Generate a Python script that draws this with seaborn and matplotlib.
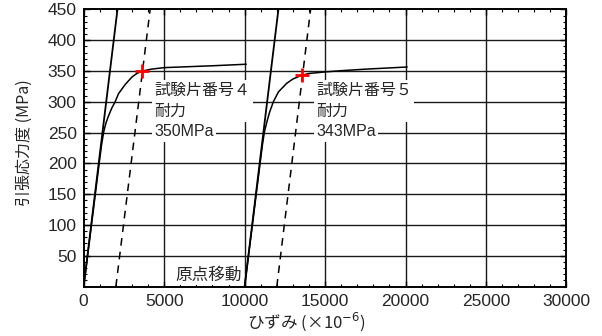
import pandas as pd
import matplotlib
matplotlib.use("Agg")
import matplotlib.pyplot as plt
import seaborn as sns

# Stress-strain readings (strain x10^-6, stress MPa)
strain4 = [0, 500, 960, 1110, 1250, 1390, 1540, 1750, 1955, 2160, 2577, 2990, 3300, 3650, 4200, 5000, 6000, 8000, 10100]
stress4 = [0, 104, 200, 230, 252, 266, 277, 290, 300, 313, 328, 340, 346, 350, 353, 355.5, 356.5, 358.5, 361]
strain5 = [10000, 10500, 10960, 11100, 11230, 11390, 11550, 11785, 12100, 12615, 13000, 13547, 14000, 15000, 16000, 17500, 20100]
stress5 = [0, 104, 200, 229, 251, 268, 283, 300, 316, 330, 337, 343, 346, 348.5, 350.5, 353, 356.5]

# elastic lines and 0.2% offset lines
elastic_x = [[0, 2100], [10000, 12100]]
offset_x = [[2000, 4130], [12000, 14100]]
line_y = [0, 450]

# proof stress points
proof_x = [3650, 13547]
proof_y = [350, 343]
proof_labels = ["試験片番号４\n耐力", "試験片番号５\n耐力"]
proof_values = ["350MPa", "343MPa"]

curves = pd.concat([
    pd.DataFrame({"strain": strain4, "stress": stress4, "piece": "4"}),
    pd.DataFrame({"strain": strain5, "stress": stress5, "piece": "5"}),
])

sns.set_theme(style="ticks")
fam = ["Liberation Sans", "Noto Sans CJK JP", "DejaVu Sans"]
jp = ["Noto Sans CJK JP", "DejaVu Sans"]
plt.rcParams["font.family"] = fam

fig = plt.figure(figsize=(6.02, 3.36), dpi=100)
ax = fig.add_axes([0.139, 0.147, 0.802, 0.825])

# grid
for y in range(50, 450, 50):
    ax.axhline(y, color="#1a1a1a", lw=1.0, zorder=0)
for x in range(5000, 30000, 5000):
    ax.axvline(x, color="#1a1a1a", lw=1.0, zorder=0)

sns.lineplot(data=curves, x="strain", y="stress", units="piece", estimator=None,
             sort=False, color="black", lw=1.1, ax=ax, zorder=3)

for ex in elastic_x:
    ax.plot(ex, line_y, color="black", lw=1.3, zorder=3)
for ox in offset_x:
    ax.plot(ox, line_y, color="black", lw=1.1, ls=(0, (5, 4)), zorder=3)

ax.plot(proof_x, proof_y, ls="none", marker="+", ms=10, mew=2, color="red", zorder=5)

box = dict(facecolor="white", edgecolor="none", pad=1.5)
text_x = [4400, 14450]
for tx, lab, val in zip(text_x, proof_labels, proof_values):
    ax.text(tx, 301, lab, family=jp, fontsize=11.5, va="center", ha="left",
            linespacing=1.3, bbox=box, zorder=4)
    ax.text(tx, 251, val, family=fam, fontsize=11.5, va="center", ha="left",
            bbox=box, zorder=4)
ax.text(9850, 19, "原点移動", family=jp, fontsize=12, va="center", ha="right",
        bbox=box, zorder=4)

ax.set_xlim(0, 30000)
ax.set_ylim(0, 450)
ax.set_xticks(range(0, 30001, 5000))
ax.set_yticks(range(50, 451, 50))
ax.set_xticks(range(0, 30001, 1000), minor=True)
ax.set_yticks(range(0, 451, 10), minor=True)
ax.tick_params(which="both", direction="in", top=True, right=True, color="black")
ax.tick_params(which="major", length=4, width=1, labelsize=12.5, pad=5)
ax.tick_params(which="minor", length=2, width=0.8)
for s in ax.spines.values():
    s.set_linewidth(1.4)
    s.set_color("black")

ax.set_xlabel("ひずみ (×10$^{-6}$)", family=jp, fontsize=12)
ax.set_ylabel("引張応力度 (MPa)", family=jp, fontsize=11.5)
ax.xaxis.set_label_coords(0.46, -0.085)
ax.yaxis.set_label_coords(-0.105, 0.52)

fig.savefig("out.png", dpi=100)
